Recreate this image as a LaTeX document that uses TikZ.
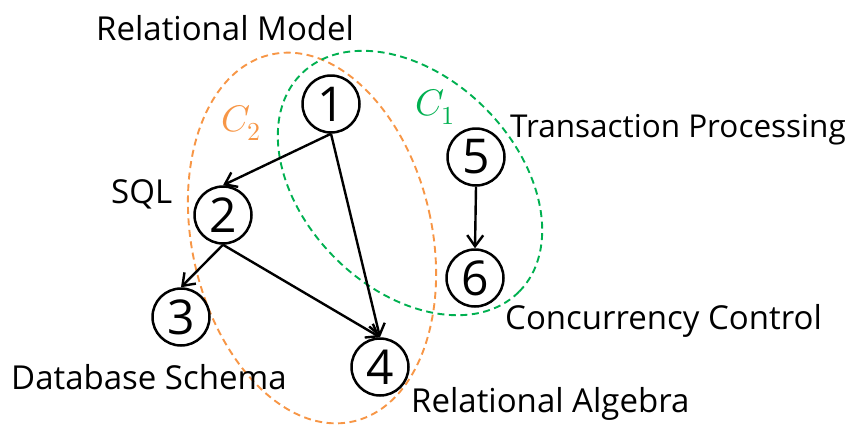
\documentclass[tikz,border=0pt]{standalone}
\usepackage{fontspec}
\usepackage{unicode-math}
\setmainfont{Open Sans}
\setmathfont{Latin Modern Math}
\usetikzlibrary{arrows.meta}
\definecolor{grouporange}{RGB}{247,150,70}
\definecolor{groupgreen}{RGB}{0,176,80}
\tikzset{
  vertex/.style={circle, draw=black, line width=2.5pt, minimum size=57pt, inner sep=0pt,
    font=\fontsize{48}{52}\selectfont},
  label text/.style={inner sep=0pt, anchor=base west, font=\fontsize{33}{38}\selectfont},
  edge/.style={line width=2.4pt, -{Straight Barb[length=11pt,width=16pt,line width=2.4pt]}},
  group/.style={dashed, line width=1.9pt, dash pattern=on 7pt off 4.5pt},
  grouplabel/.style={inner sep=0pt, font=\fontsize{37}{40}\selectfont}
}
\begin{document}
\begin{tikzpicture}[x=1pt, y=-1pt]
\useasboundingbox (0,0) rectangle (853,424);

% clusters
\draw[group, draw=grouporange, shift={(312,238)}, rotate=12.6] (0,0) ellipse (120 and 188);
\draw[group, draw=groupgreen, shift={(410,183)}, rotate=-45] (0,0) ellipse (154 and 106);
\node[grouplabel, text=grouporange] (c2) at (241,123) {$C_2$};
\node[grouplabel, text=groupgreen] (c1) at (435,107) {$C_1$};

% vertices
\node[vertex] (n1) at (331,104) {1};
\node[vertex] (n2) at (223,215) {2};
\node[vertex] (n3) at (181,317) {3};
\node[vertex] (n4) at (380,367) {4};
\node[vertex] (n5) at (476,157) {5};
\node[vertex] (n6) at (475,278) {6};

% dependencies
\draw[edge] (n1.south) -- (n2.north);
\draw[edge] (n1.south) -- (n4.north);
\draw[edge] (n2.south) -- (n3.north);
\draw[edge] (n2.south) -- (n4.north);
\draw[edge] (n5.south) -- (n6.north);

% topic names
\node[label text] (t1) at (96,40) {Relational Model};
\node[label text] (t2) at (111,203) {SQL};
\node[label text] (t3) at (11,389) {Database Schema};
\node[label text] (t4) at (411,412) {Relational Algebra};
\node[label text, font=\fontsize{31.5}{36}\selectfont] (t5) at (510,137) {Transaction Processing};
\node[label text] (t6) at (505,329) {Concurrency Control};
\end{tikzpicture}
\end{document}
